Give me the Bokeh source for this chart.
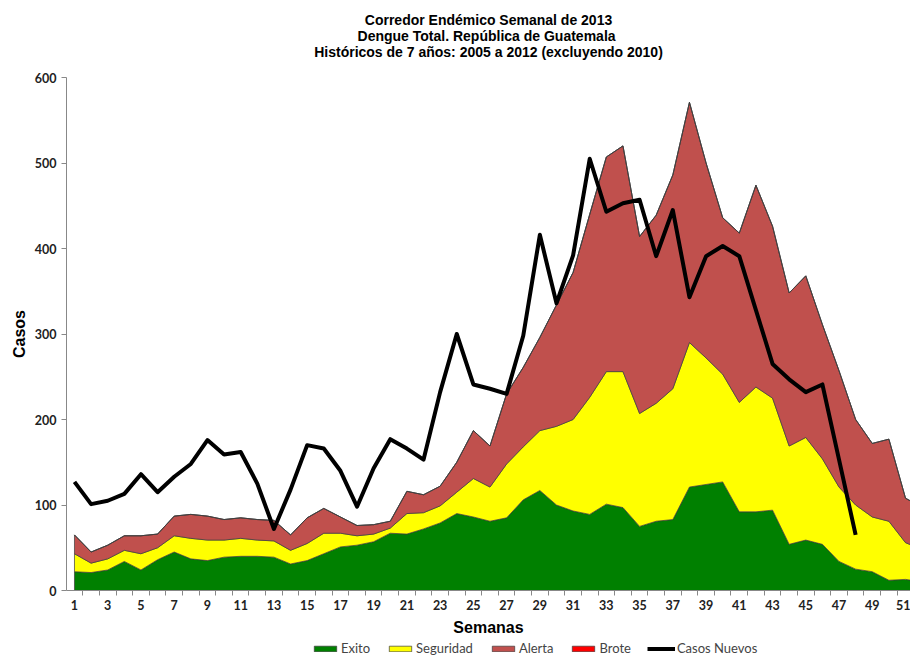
from bokeh.plotting import figure
from bokeh.layouts import column
from bokeh.models import FixedTicker, Legend, LegendItem, Title, Range1d
from bokeh.embed import file_html
from bokeh.resources import INLINE

title_lines = ["Corredor Endémico Semanal de 2013",
               "Dengue Total.  República de Guatemala",
               "Históricos de 7 años: 2005 a 2012 (excluyendo 2010)"]

weeks = list(range(1, 53))
# Upper limit of each zone (cases)
exito = [22, 21, 24, 34, 24, 36, 45, 37, 35, 39, 40, 40, 39, 31, 35, 43, 51, 53, 57, 67,
         66, 72, 79, 90, 86, 81, 85, 106, 117, 100, 93, 89, 101, 97, 75, 81, 83, 121, 124, 127,
         92, 92, 94, 54, 59, 54, 34, 25, 22, 12, 13, 10]
seguridad = [43, 32, 37, 47, 43, 50, 64, 61, 59, 59, 61, 59, 58, 47, 55, 67, 67, 64, 66, 73,
             90, 91, 99, 115, 131, 121, 148, 168, 187, 192, 200, 226, 256, 256, 207, 219, 236, 290, 272, 253,
             220, 238, 225, 169, 179, 154, 121, 100, 86, 81, 56, 48]
alerta = [65, 45, 53, 64, 64, 66, 87, 89, 87, 83, 85, 83, 82, 65, 85, 96, 86, 76, 77, 81,
          116, 112, 122, 150, 187, 169, 230, 261, 296, 334, 372, 440, 507, 520, 414, 439, 486, 571, 500, 436,
          418, 474, 426, 348, 368, 311, 257, 200, 172, 177, 108, 97]
brote = alerta  # no visible Brote band

casos_weeks = list(range(1, 49))
casos = [127, 101, 105, 113, 136, 115, 133, 148, 176, 159, 162, 125, 72, 118, 170, 166, 140, 98, 143, 177,
         166, 153, 232, 300, 241, 236, 230, 298, 416, 336, 392, 505, 443, 453, 457, 391, 445, 343, 391, 403,
         391, 328, 265, 247, 232, 241, 153, 65]

x_labels = list(range(1, 53, 2))
y_ticks = [0, 100, 200, 300, 400, 500, 600]

names = ["Exito", "Seguridad", "Alerta", "Brote"]
colors = {"Exito": "#008000", "Seguridad": "#FFFF00", "Alerta": "#C0504D", "Brote": "#FF0000"}
edge = "#3c3c3c"
zeros = [0] * len(weeks)
bands = {"Exito": (zeros, exito), "Seguridad": (exito, seguridad),
         "Alerta": (seguridad, alerta), "Brote": (alerta, brote)}

p = figure(width=910, height=640, output_backend="svg", toolbar_location=None, title=None,
           x_range=Range1d(0.52, 51.30), y_range=Range1d(0, 600),
           min_border_left=66, min_border_right=0, min_border_top=0, min_border_bottom=50)
p.outline_line_color = None
p.xgrid.visible = False
p.ygrid.visible = False


def band(fig, lower, upper, color, visible=True):
    xs = weeks + weeks[::-1]
    ys = list(upper) + list(lower)[::-1]
    return fig.patch(xs, ys, fill_color=color, line_color=edge, line_width=0.7, visible=visible)


for n in names:
    band(p, bands[n][0], bands[n][1], colors[n])
p.line(casos_weeks, casos, line_color="black", line_width=4, line_join="round")

# Title block: spacer next to the frame, the three lines, spacer at the top
p.add_layout(Title(text=" ", text_font_size="10px", standoff=5.5), "above")
for txt in reversed(title_lines):
    t = Title(text=txt, align="center", text_font="Liberation Sans", text_font_size="14px",
              text_font_style="bold", text_color="black", standoff=-2.5)
    p.add_layout(t, "above")
p.add_layout(Title(text=" ", text_font_size="6px", standoff=1.5), "above")

# Axes
p.yaxis.ticker = FixedTicker(ticks=y_ticks)
p.yaxis.axis_label = "Casos"
p.yaxis.axis_label_text_font = "Liberation Sans"
p.yaxis.axis_label_text_font_size = "16px"
p.yaxis.axis_label_text_font_style = "bold"
p.yaxis.axis_label_text_color = "black"
p.yaxis.axis_label_standoff = 4
p.yaxis.major_label_text_font = "Lato"
p.yaxis.major_label_text_font_size = "12.5px"
p.yaxis.major_label_text_font_style = "bold"
p.yaxis.major_label_text_color = "#222222"
p.yaxis.axis_line_color = "#888888"
p.yaxis.major_tick_line_color = "#888888"
p.yaxis.major_tick_out = 5
p.yaxis.major_tick_in = 0
p.yaxis.minor_tick_line_color = None

p.xaxis.ticker = FixedTicker(ticks=x_labels, minor_ticks=[w + 0.5 for w in range(0, 53)])
p.xaxis.axis_label = "Semanas"
p.xaxis.axis_label_text_font = "Liberation Sans"
p.xaxis.axis_label_text_font_size = "16px"
p.xaxis.axis_label_text_font_style = "bold"
p.xaxis.axis_label_text_color = "black"
p.xaxis.axis_label_standoff = 6
p.xaxis.major_label_text_font = "Lato"
p.xaxis.major_label_text_font_size = "12.5px"
p.xaxis.major_label_text_font_style = "bold"
p.xaxis.major_label_text_color = "#222222"
p.xaxis.major_label_standoff = 3
p.xaxis.axis_line_color = "#888888"
p.xaxis.major_tick_line_color = None
p.xaxis.minor_tick_line_color = "#888888"
p.xaxis.minor_tick_out = 5
p.xaxis.minor_tick_in = 0

# Legend strip below the chart (its renderers are hidden copies of the series)
lg = figure(width=910, height=16, output_backend="svg", toolbar_location=None, title=None,
            x_range=Range1d(0, 1), y_range=Range1d(0, 1),
            min_border_left=0, min_border_right=0, min_border_top=0, min_border_bottom=0)
lg.outline_line_color = None
lg.axis.visible = False
lg.grid.visible = False
items = []
for n in names:
    r = band(lg, bands[n][0], bands[n][1], colors[n], visible=False)
    items.append(LegendItem(label=n, renderers=[r]))
rl = lg.line(casos_weeks, casos, line_color="black", line_width=4, visible=False)
items.append(LegendItem(label="Casos Nuevos", renderers=[rl]))
legend = Legend(items=items, orientation="horizontal", location=(245, 0),
                label_text_font="Lato", label_text_font_size="13px",
                glyph_width=28, glyph_height=7, spacing=16, padding=0, margin=0,
                label_standoff=2, border_line_color=None, background_fill_alpha=0)
lg.add_layout(legend)

layout = column(p, lg, spacing=0)
open("out.html", "w").write(file_html(layout, INLINE))
